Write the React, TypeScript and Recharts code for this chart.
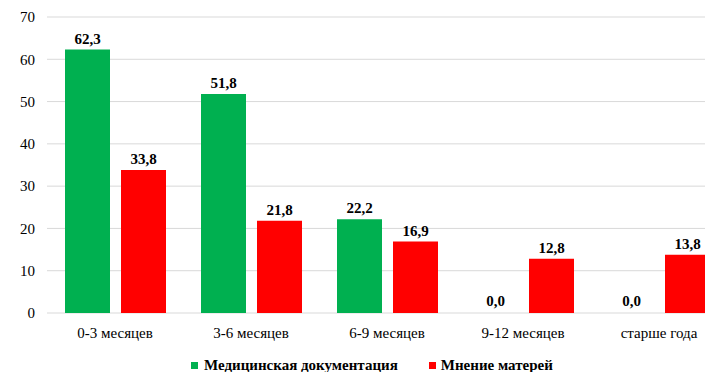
import React from 'react';
import { BarChart, Bar, XAxis, YAxis, CartesianGrid, Legend, LabelList, Rectangle } from 'recharts';

const categories = ['0-3 месяцев', '3-6 месяцев', '6-9 месяцев', '9-12 месяцев', 'старше года'];
const medicalRecords = [62.3, 51.8, 22.2, 0.0, 0.0];
const mothersOpinion = [33.8, 21.8, 16.9, 12.8, 13.8];
const yTicks = [0, 10, 20, 30, 40, 50, 60, 70];

const seriesNames = {
  medical: 'Медицинская документация',
  mothers: 'Мнение матерей',
};

const GREEN = '#00b050';
const RED = '#ff0000';
const FONT = 'Times New Roman';

const chartData = categories.map((name, i) => ({
  name,
  medical: medicalRecords[i],
  mothers: mothersOpinion[i],
}));

const formatValue = (v: any) => Number(v).toFixed(1).replace('.', ',');

// zero values keep their label but draw no rectangle
const BarShape = (props: any) => (props.value === 0 ? <g /> : <Rectangle {...props} />);

const LegendContent = () => (
  <div
    style={{
      display: 'flex',
      alignItems: 'center',
      height: 18,
      fontFamily: FONT,
      fontWeight: 'bold',
      fontSize: 15,
      color: '#000',
      whiteSpace: 'nowrap',
    }}
  >
    <span style={{ width: 7, height: 7, background: GREEN, marginRight: 6 }} />
    <span>{seriesNames.medical}</span>
    <span style={{ width: 7, height: 7, background: RED, marginLeft: 31, marginRight: 5 }} />
    <span>{seriesNames.mothers}</span>
  </div>
);

const App: React.FC = () => {
  return (
    <div
      style={{
        position: 'absolute',
        left: 0,
        top: 0,
        width: 705,
        height: 372,
        overflow: 'hidden',
        background: '#fff',
      }}
    >
      <BarChart
        width={740}
        height={372}
        data={chartData}
        margin={{ top: 17, right: 13, left: 0, bottom: 0 }}
        barSize={45}
        barGap={11}
        barCategoryGap={17}
      >
        <CartesianGrid vertical={false} stroke="#d9d9d9" />
        <XAxis
          dataKey="name"
          axisLine={false}
          tickLine={false}
          tickMargin={8}
          height={41}
          interval={0}
          tick={{ fill: '#000', fontSize: 15, fontFamily: FONT }}
        />
        <YAxis
          width={47}
          domain={[0, 70]}
          ticks={yTicks}
          axisLine={false}
          tickLine={false}
          tickMargin={6}
          tick={{ fill: '#000', fontSize: 15, fontFamily: FONT }}
        />
        <Legend
          content={<LegendContent />}
          wrapperStyle={{ left: 191, bottom: -2, width: 420 }}
        />
        <Bar
          dataKey="medical"
          name={seriesNames.medical}
          fill={GREEN}
          minPointSize={1}
          shape={BarShape}
          isAnimationActive={false}
        >
          <LabelList
            dataKey="medical"
            position="top"
            offset={6}
            formatter={formatValue}
            style={{ fill: '#000', fontSize: 15, fontWeight: 'bold', fontFamily: FONT }}
          />
        </Bar>
        <Bar dataKey="mothers" name={seriesNames.mothers} fill={RED} isAnimationActive={false}>
          <LabelList
            dataKey="mothers"
            position="top"
            offset={6}
            formatter={formatValue}
            style={{ fill: '#000', fontSize: 15, fontWeight: 'bold', fontFamily: FONT }}
          />
        </Bar>
      </BarChart>
    </div>
  );
};

export default App;
